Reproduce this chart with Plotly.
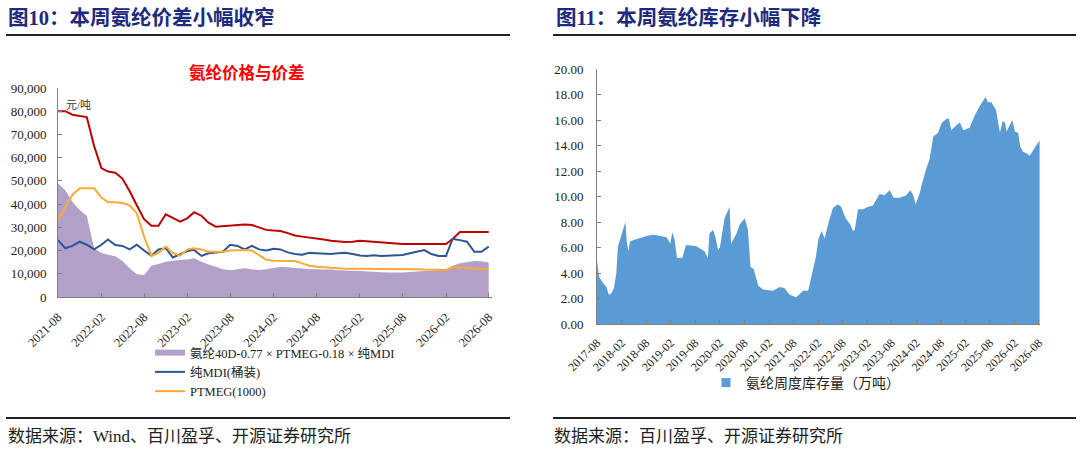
import plotly.graph_objects as go
import pandas as pd

# ---- left chart: monthly prices, 2021-08 .. 2026-08 (yuan / ton)
months = pd.date_range("2021-08-01", periods=61, freq="MS")

spandex_40d = [80000, 80000, 78500, 78000, 77500, 65000, 55500, 54000, 53500, 51000,
               45500, 39500, 33500, 30700, 30700, 35600, 34000, 32500, 34000, 36500,
               35000, 32000, 30300, 30500, 30700, 31100, 31200, 31000, 30000, 28900,
               28600, 28400, 27500, 26500, 26000, 25700, 25300, 24800, 24200, 23800,
               23700, 23800, 24200, 24000, 23700, 23400, 23100, 22800, 22800, 22800,
               22800, 22800, 22800, 22800, 22800, 25000, 28000, 28000, 28000, 28000, 28000]

mdi = [24500, 21000, 22000, 23800, 22500, 20500, 22500, 24800, 22400, 22000,
       20500, 22500, 20000, 17800, 20500, 21000, 17000, 18300, 19800, 20300,
       17700, 18800, 19300, 19500, 22500, 22000, 20500, 22000, 20500, 20000,
       20800, 20500, 19200, 18500, 18200, 19000, 18800, 18700, 18500, 18800,
       19100, 18500, 17900, 17700, 18000, 17700, 17900, 18000, 18100, 18800,
       19500, 20200, 18500, 17700, 17700, 25000, 24500, 23800, 19500, 19500, 21700]

ptmeg = [33200, 38500, 44000, 46800, 46800, 46800, 42800, 40800, 40800, 40500,
         39500, 36000, 26000, 17700, 19000, 21700, 19000, 17800, 20500, 21000,
         20500, 19500, 19500, 19500, 20000, 20200, 20200, 20000, 18000, 16000,
         15600, 15600, 15600, 15500, 14500, 13500, 13000, 12800, 12500, 12200,
         12200, 12200, 12200, 12200, 12200, 12200, 12200, 12200, 12200, 12200,
         12000, 11800, 11700, 11600, 11600, 12800, 12800, 12500, 12300, 12000, 11900]

spread = [49000, 46000, 41000, 37500, 35000, 21000, 19000, 18200, 17500, 15500,
          12400, 9800, 9500, 13500, 14200, 15200, 15600, 15900, 16200, 16700,
          15200, 14000, 13000, 12000, 11500, 12000, 12400, 12000, 11600, 12000,
          12500, 13000, 12800, 12500, 12300, 12000, 11900, 11800, 11800, 11500,
          11400, 11300, 11200, 11000, 10900, 10700, 10600, 10500, 10600, 10800,
          11000, 11200, 11300, 11600, 12000, 13500, 14500, 15000, 15500, 15400, 14900]

# ---- right chart: weekly inventory (10k tons), read at turning points
stock_dates = ["2017-08-01", "2017-08-16", "2017-09-16", "2017-10-10", "2017-10-28",
               "2017-11-16", "2017-12-04", "2017-12-22", "2018-01-04", "2018-01-22",
               "2018-02-13", "2018-03-01", "2018-03-10", "2018-03-22", "2018-04-04",
               "2018-05-07", "2018-08-04", "2018-09-22", "2019-01-01", "2019-01-28",
               "2019-02-13", "2019-03-01", "2019-03-19", "2019-04-28", "2019-05-25",
               "2019-08-10", "2019-10-10", "2019-11-04", "2019-11-16", "2019-12-13",
               "2020-01-01", "2020-01-19", "2020-02-01", "2020-03-07", "2020-03-28",
               "2020-04-13", "2020-04-25", "2020-06-04", "2020-06-28", "2020-08-04",
               "2020-08-28", "2020-09-16", "2020-10-10", "2020-11-13", "2020-12-19",
               "2021-03-01", "2021-04-22", "2021-05-28", "2021-07-04", "2021-08-22",
               "2021-10-13", "2021-11-19", "2021-12-13", "2022-01-16", "2022-02-04",
               "2022-02-28", "2022-03-22", "2022-04-16", "2022-05-22", "2022-06-28",
               "2022-07-22", "2022-08-25", "2022-09-28", "2022-10-19", "2022-11-01",
               "2022-11-25", "2023-01-01", "2023-02-10", "2023-03-16", "2023-05-04",
               "2023-06-10", "2023-07-19", "2023-08-16", "2023-10-01", "2023-11-19",
               "2023-12-19", "2024-01-10", "2024-01-28", "2024-02-28", "2024-03-10",
               "2024-04-16", "2024-05-10", "2024-06-07", "2024-07-13", "2024-08-07",
               "2024-09-13", "2024-10-01", "2024-10-19", "2024-11-28", "2024-12-22",
               "2025-01-16", "2025-03-04", "2025-04-13", "2025-05-19", "2025-07-01",
               "2025-07-19", "2025-08-13", "2025-09-16", "2025-10-16", "2025-11-04",
               "2025-11-22", "2025-12-04", "2026-01-16", "2026-02-04", "2026-02-28",
               "2026-03-16", "2026-04-07", "2026-05-01", "2026-05-25", "2026-07-01",
               "2026-08-07"]

stock = [5.0, 3.7, 3.2, 2.9, 2.3, 2.4, 2.8, 3.9, 6.1, 6.7,
         7.5, 8.0, 6.5, 5.7, 6.5, 6.6, 6.9, 7.0, 6.8, 6.3,
         7.2, 6.6, 5.2, 5.2, 6.2, 6.1, 5.7, 5.2, 7.1, 7.4,
         6.7, 5.8, 6.0, 8.3, 8.8, 9.2, 6.3, 7.1, 7.8, 8.3,
         7.4, 4.5, 4.3, 3.0, 2.7, 2.6, 2.9, 2.8, 2.3, 2.1,
         2.6, 2.6, 3.7, 5.3, 6.7, 7.3, 6.7, 7.8, 9.1, 9.4,
         9.2, 8.3, 7.8, 7.3, 7.4, 9.0, 9.0, 9.2, 9.3, 10.2,
         10.1, 10.5, 9.9, 9.9, 10.1, 10.5, 10.1, 9.4, 10.3, 10.8,
         12.2, 12.9, 14.7, 15.0, 15.75, 16.1, 16.1, 15.2, 15.6, 15.8,
         15.2, 15.4, 16.4, 17.1, 17.8, 17.4, 17.4, 16.8, 15.0, 15.9,
         15.8, 15.1, 16.0, 15.1, 15.0, 13.9, 13.5, 13.4, 13.2, 13.8,
         14.4]

FONT = "Liberation Serif, Noto Sans CJK SC, serif"
NAVY = "#1C2A80"
AXIS = "#808080"


def py(px):
    # pixel row from top -> paper y
    return 1 - px / 453


def pxx(px):
    return px / 1080


fig = go.Figure()

fig.add_trace(go.Scatter(x=months, y=spread, fill="tozeroy", mode="none",
                         fillcolor="#B1A0C7", name="氨纶40D-0.77 × PTMEG-0.18 × 纯MDI",
                         legend="legend"))
fig.add_trace(go.Scatter(x=months, y=spandex_40d, mode="lines",
                         line=dict(color="#C00000", width=2), name="氨纶40D",
                         showlegend=False))
fig.add_trace(go.Scatter(x=months, y=mdi, mode="lines",
                         line=dict(color="#2F5597", width=2), name="纯MDI(桶装)",
                         legend="legend"))
fig.add_trace(go.Scatter(x=months, y=ptmeg, mode="lines",
                         line=dict(color="#FFA833", width=2), name="PTMEG(1000)",
                         legend="legend"))

fig.add_trace(go.Scatter(x=stock_dates, y=stock, fill="tozeroy", mode="none",
                         fillcolor="#5B9BD5", xaxis="x2", yaxis="y2",
                         showlegend=False))
# legend marker for the inventory area (square swatch like the source)
fig.add_trace(go.Scatter(x=[None], y=[None], mode="markers", xaxis="x2", yaxis="y2",
                         marker=dict(symbol="square", size=9, color="#5B9BD5"),
                         name="氨纶周度库存量（万吨）", legend="legend2"))

axis_common = dict(showline=True, linecolor=AXIS, linewidth=1, showgrid=False,
                   zeroline=False, ticks="inside", tickcolor=AXIS, ticklen=4,
                   fixedrange=True, automargin=False)

fig.update_layout(
    width=1080, height=453, autosize=False,
    margin=dict(l=0, r=0, t=0, b=0, autoexpand=False),
    paper_bgcolor="white", plot_bgcolor="white",
    font=dict(family=FONT, size=13, color="#222222"),
    xaxis=dict(domain=[pxx(58), pxx(492)], anchor="y", type="date",
               range=["2021-08-01", "2026-08-15"], tick0="2021-08-01", dtick="M6",
               tickformat="%Y-%m", tickangle=-45, tickfont=dict(size=12.5),
               ticklabelstandoff=7, **axis_common),
    yaxis=dict(domain=[py(297), py(88)], anchor="x", range=[0, 90000], dtick=10000,
               tickformat=",", tickfont=dict(size=13), ticklabelstandoff=8,
               **axis_common),
    xaxis2=dict(domain=[pxx(597), pxx(1040)], anchor="y2", type="date",
                range=["2017-08-01", "2026-08-10"], tick0="2017-08-01", dtick="M6",
                tickformat="%Y-%m", tickangle=-45, tickfont=dict(size=12),
                ticklabelstandoff=6, **axis_common),
    yaxis2=dict(domain=[py(324), py(69)], anchor="x2", range=[0, 20], dtick=2,
                tickformat=".2f", tickfont=dict(size=13), ticklabelstandoff=10,
                **axis_common),
    legend=dict(x=pxx(150), y=py(338), xanchor="left", yanchor="top",
                orientation="v", font=dict(size=12.5), bgcolor="rgba(0,0,0,0)",
                itemwidth=30, tracegroupgap=0),
    legend2=dict(x=pxx(706), y=py(367), xanchor="left", yanchor="top",
                 font=dict(size=14), bgcolor="rgba(0,0,0,0)"),
    showlegend=True,
)

shapes = []
for x0, x1 in [(6, 510), (553, 1076)]:
    for yy in [35, 418]:
        shapes.append(dict(type="line", xref="paper", yref="paper",
                           x0=pxx(x0), x1=pxx(x1), y0=py(yy), y1=py(yy),
                           line=dict(color="#222222", width=2)))
fig.update_layout(shapes=shapes)

ann = [
    dict(text="<b>图10：本周氨纶价差小幅收窄</b>", x=pxx(6), y=py(18),
         font=dict(size=20.5, color=NAVY)),
    dict(text="<b>图11：本周氨纶库存小幅下降</b>", x=pxx(554), y=py(18),
         font=dict(size=20.5, color=NAVY)),
    dict(text="<b>氨纶价格与价差</b>", x=pxx(247), y=py(73), xanchor="center",
         font=dict(size=16.5, color="#FF0000")),
    dict(text="元/吨", x=pxx(64), y=py(105), font=dict(size=11, color="#333333")),
    dict(text="数据来源：Wind、百川盈孚、开源证券研究所", x=pxx(6), y=py(436),
         font=dict(size=17, color="#222222")),
    dict(text="数据来源：百川盈孚、开源证券研究所", x=pxx(552), y=py(436),
         font=dict(size=17, color="#222222")),
]
for a in ann:
    a.setdefault("xanchor", "left")
    fig.add_annotation(xref="paper", yref="paper", yanchor="middle",
                       showarrow=False, **a)

# page body has a default 8px margin; drop it so the figure sits at 0,0
fig.write_html("out.html", config={"displayModeBar": False},
               post_script="document.body.style.margin='0';")
